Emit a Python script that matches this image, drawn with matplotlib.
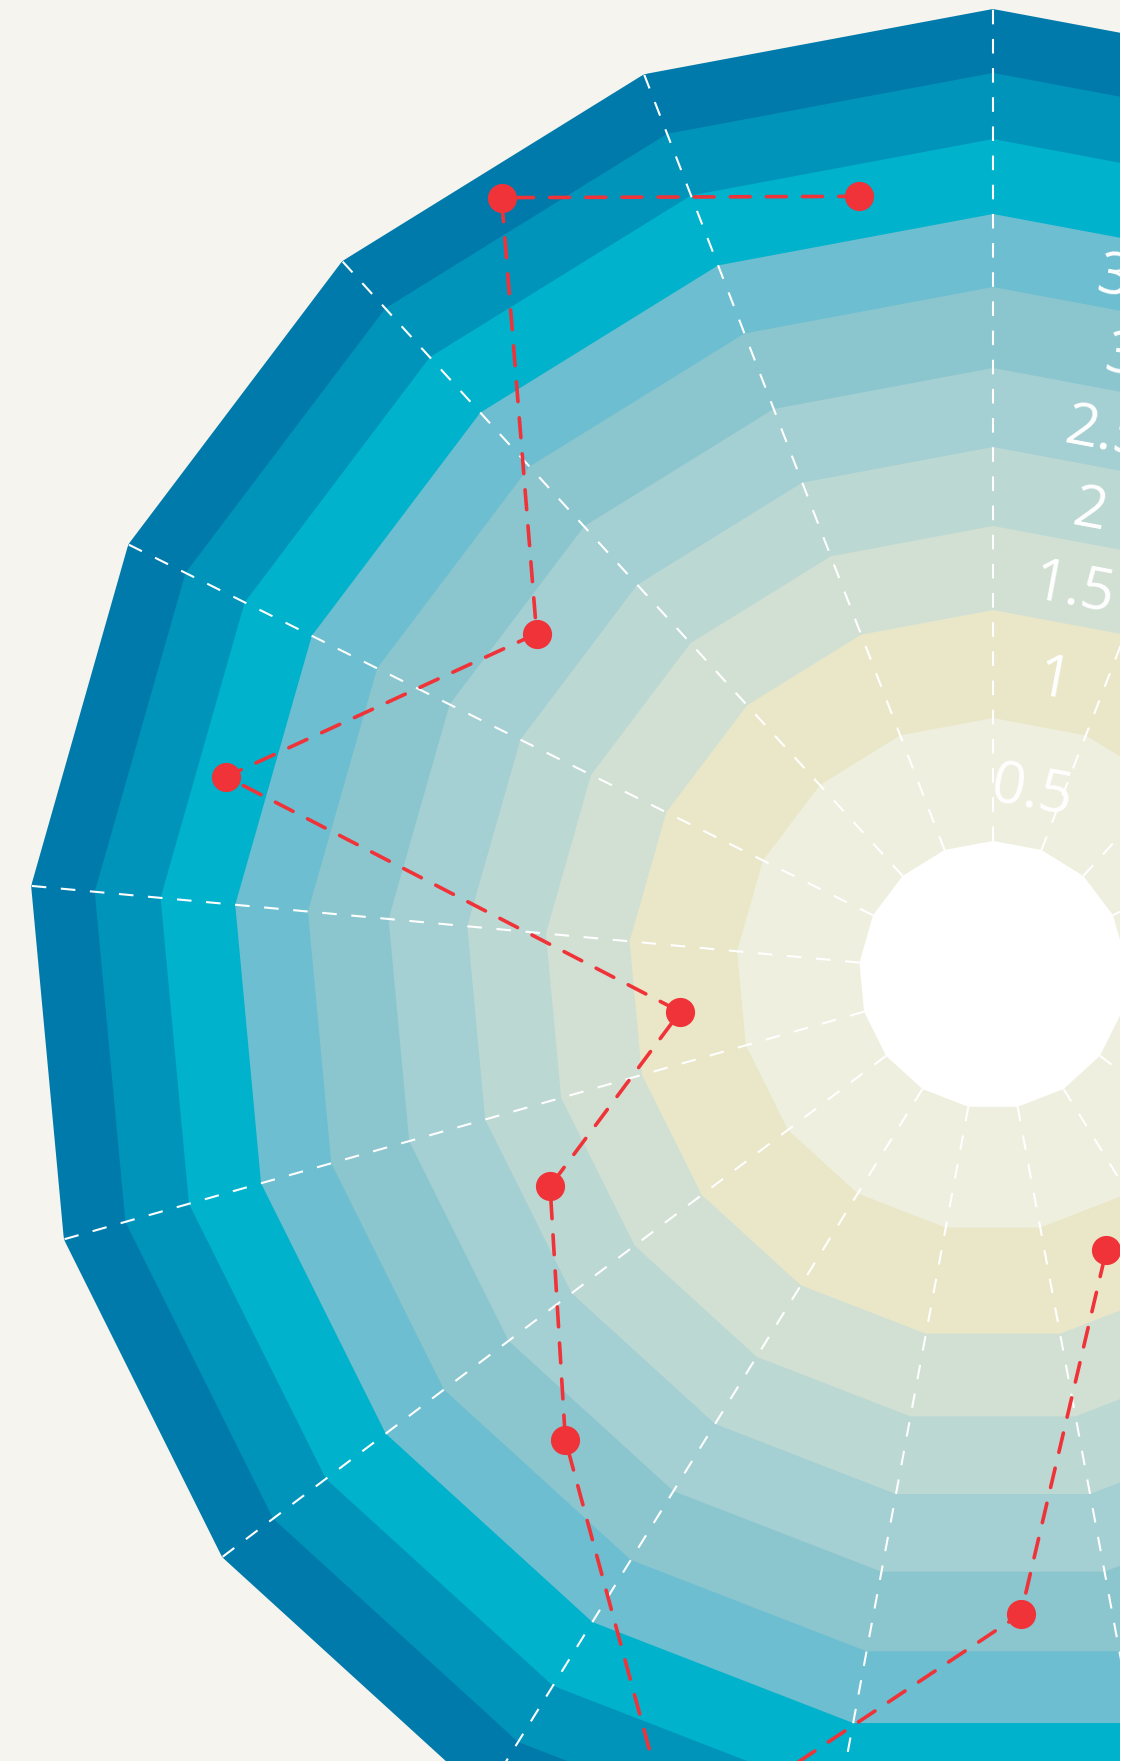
import numpy as np
import matplotlib.pyplot as plt
from matplotlib.patches import Rectangle

# Grelha do radar: 17 eixos, 10 faixas coloridas
n_axes = 17
band_edges = [0.694, 1.330, 1.889, 2.324, 2.733, 3.142, 3.561, 3.939, 4.327, 4.669, 5.000]
band_colors = ["#efefdf", "#e9e7c8", "#d2e0d4", "#bcd8d3", "#a4cfd3",
               "#8bc6cf", "#6cbed0", "#00b2cb", "#0094bb", "#007aaa"]
band_labels = ["0.5", "1", "1.5", "2", "2.5", "3", "3.5", "4", "4.5", "5"]
hole_color = "#ffffff"

# Série vermelha: ângulo (graus, a partir do eixo do topo, anti-horário) e valor
series_theta = [9.8, 32.3, 53.2, 75.5, 96.7, 115.5, 137.4, 159.9, 182.5, 202.4]
series_val = [4.09, 4.76, 2.95, 4.10, 1.63, 2.54, 3.27, 4.79, 3.31, 1.54]

W, H = 1141, 1761
cx, cy, R = 993, 975, 966
fig = plt.figure(figsize=(W / 100, H / 100), dpi=100, facecolor="#f5f4ef")
ax = fig.add_axes([(cx - R) / W, (H - cy - R) / H, 2 * R / W, 2 * R / H],
                  projection="polar")
ax.set_facecolor("none")
ax.set_theta_offset(np.pi / 2)
ax.set_ylim(0, band_edges[-1])
ax.axis("off")

step = 2 * np.pi / n_axes
theta_sp = np.arange(n_axes + 1) * step

# Faixas: da mais externa para a mais interna
for edge, col in zip(band_edges[:0:-1], band_colors[::-1]):
    ax.fill(theta_sp, np.full(n_axes + 1, edge), color=col, lw=0, zorder=1)
ax.fill(theta_sp, np.full(n_axes + 1, band_edges[0]), color=hole_color, lw=0, zorder=1)

# Raios tracejados
for t in theta_sp[:-1]:
    ax.plot([t, t], [band_edges[0], band_edges[-1]], color="white", lw=1.5,
            ls=(0, (7, 7)), zorder=2)

# Rótulos das faixas
label_theta = np.deg2rad(-11.8)
mids = (np.array(band_edges[:-1]) + np.array(band_edges[1:])) / 2 * np.cos(np.pi / n_axes) - 0.035
for r, lab in zip(mids, band_labels):
    ax.text(label_theta, r, lab, rotation=-180 / n_axes, ha="center", va="center",
            rotation_mode="anchor", color="white", fontsize=42,
            family="Open Sans", zorder=3)

# Série
theta_pts = np.deg2rad(series_theta)
ax.plot(theta_pts, series_val, color="#ef3338", lw=2.6, ls=(0, (5.5, 4.5)),
        dash_capstyle="round", zorder=4)
ax.plot(theta_pts, series_val, "o", color="#ef3338", ms=21, mec="none", zorder=5)

fig.add_artist(Rectangle((1120 / W, 0), 1 - 1120 / W, 1, transform=fig.transFigure,
                         facecolor="white", edgecolor="none", zorder=10))

fig.savefig("out.png", dpi=100, facecolor=fig.get_facecolor())
